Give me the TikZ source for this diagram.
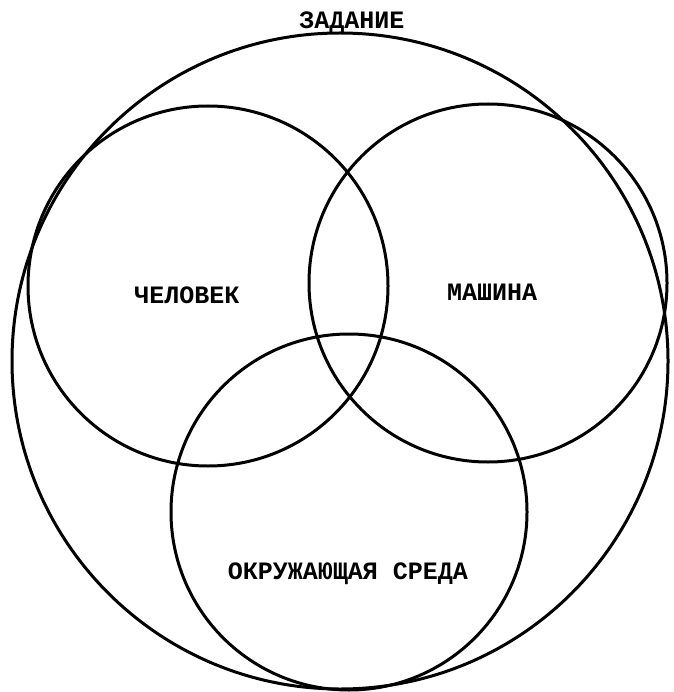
\documentclass[tikz,border=0pt]{standalone}
\usepackage{fontspec}
\setmonofont{Liberation Mono}
\begin{document}
\begin{tikzpicture}[x=1pt,y=-1pt,
  ring/.style={draw=black,line width=3pt},
  lbl/.style={font=\ttfamily\bfseries\fontsize{25}{27}\selectfont,inner sep=0pt}]
\useasboundingbox (0,0) rectangle (673,692);
\draw[ring] (340,361) circle[radius=328];
\draw[ring] (208,286) circle[radius=180];
\draw[ring] (488,283) circle[radius=179];
\draw[ring] (349,512) circle[radius=178];
\node[lbl] (task) at (352,23) {ЗАДАНИЕ};
\node[lbl] (man) at (187,295) {ЧЕЛОВЕК};
\node[lbl] (mach) at (492,292) {МАШИНА};
\node[lbl] (env) at (348,574) {ОКРУЖАЮЩАЯ СРЕДА};
\end{tikzpicture}
\end{document}
